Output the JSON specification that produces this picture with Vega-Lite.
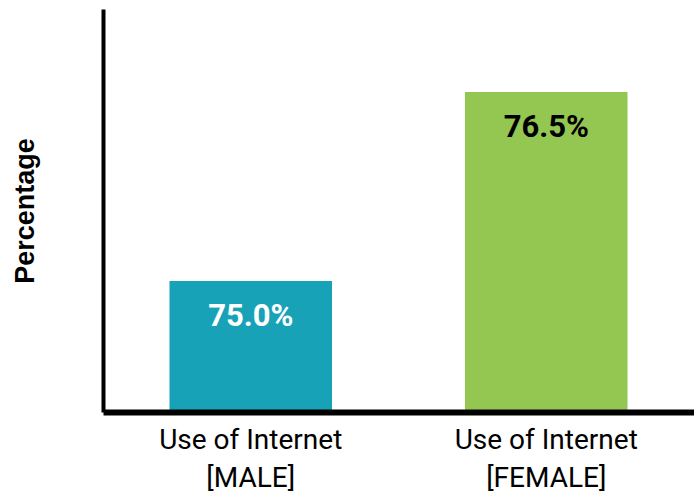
{
  "$schema": "https://vega.github.io/schema/vega-lite/v6.json",
  "width": 591,
  "height": 403,
  "autosize": {"type": "none"},
  "padding": {"left": 103, "top": 9, "right": 0, "bottom": 86},
  "background": "white",
  "config": {"view": {"stroke": null}},
  "data": {
    "values": [
      {"category": "Use of Internet [MALE]", "value": 75.0},
      {"category": "Use of Internet [FEMALE]", "value": 76.5}
    ]
  },
  "transform": [
    {"calculate": "format(datum.value, '.1f') + '%'", "as": "label"}
  ],
  "encoding": {
    "x": {
      "field": "category",
      "type": "nominal",
      "sort": null,
      "scale": {"paddingInner": 0.45, "paddingOuter": 0.225},
      "axis": {
        "title": null,
        "labelAngle": 0,
        "ticks": false,
        "domainColor": "black",
        "domainWidth": 6,
        "labelFont": "Roboto",
        "labelFontSize": 28,
        "labelColor": "black",
        "labelPadding": 14,
        "labelLineHeight": 38,
        "labelLimit": 400,
        "labelExpr": "[slice(datum.label, 0, 15), slice(datum.label, 16)]",
        "zindex": 1
      }
    },
    "y": {
      "field": "value",
      "type": "quantitative",
      "scale": {"domain": [73.96, 77.16], "zero": false, "nice": false},
      "axis": {
        "title": "Percentage",
        "labels": false,
        "ticks": false,
        "grid": false,
        "domainColor": "black",
        "domainWidth": 4,
        "titleFont": "Liberation Sans",
        "titleFontSize": 27,
        "titleFontWeight": "bold",
        "titleColor": "black",
        "titlePadding": 64,
        "zindex": 1
      }
    }
  },
  "layer": [
    {
      "mark": {"type": "bar", "clip": true},
      "encoding": {
        "color": {
          "field": "category",
          "type": "nominal",
          "scale": {
            "domain": ["Use of Internet [MALE]", "Use of Internet [FEMALE]"],
            "range": ["#17A2B8", "#94C752"]
          },
          "legend": null
        }
      }
    },
    {
      "mark": {
        "type": "text",
        "baseline": "alphabetic",
        "dy": 45,
        "font": "Roboto",
        "fontWeight": "bold",
        "fontSize": 31
      },
      "encoding": {
        "text": {"field": "label"},
        "color": {
          "condition": {"test": "datum.category == 'Use of Internet [MALE]'", "value": "white"},
          "value": "black"
        }
      }
    }
  ]
}
